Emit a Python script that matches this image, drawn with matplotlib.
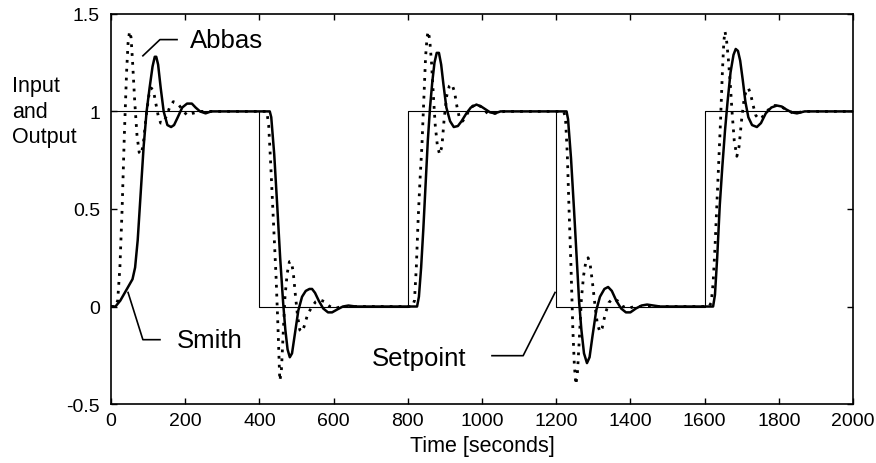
import matplotlib
matplotlib.use('Agg')
import matplotlib.pyplot as plt

plt.rcParams['font.family'] = ['Liberation Sans', 'DejaVu Sans']

# Setpoint square wave (step-post)
setpoint_t = [0, 400, 800, 1200, 1600, 2000]
setpoint_y = [1, 0, 1, 0, 1, 1]

# Smith predictor response (solid line)
smith_t = [0, 12, 25, 40, 52, 58, 65, 72, 80, 88, 96, 104, 112, 118, 122, 127, 134,
           142, 152, 162, 170, 180, 192, 205, 218, 228, 240, 255, 270, 290, 320, 360,
           400, 428,
           432, 440, 448, 456, 464, 470, 476, 482, 488, 495, 505, 515, 525, 535, 542,
           550, 560, 572, 585, 596, 610, 625, 640, 660, 700, 760, 800, 825,
           830, 836, 842, 848, 854, 860, 866, 872, 878, 884, 890, 896, 904, 914, 924,
           935, 945, 958, 970, 985, 998, 1010, 1022, 1035, 1050, 1080, 1120, 1200, 1228,
           1232, 1240, 1248, 1256, 1262, 1268, 1275, 1283, 1290, 1298, 1308, 1318, 1330,
           1340, 1350, 1362, 1375, 1388, 1400, 1415, 1430, 1445, 1480, 1550, 1600, 1623,
           1628, 1634, 1641, 1648, 1655, 1662, 1670, 1678, 1684, 1690, 1696, 1703, 1710,
           1718, 1728, 1741, 1752, 1765, 1780, 1795, 1808, 1820, 1835, 1849, 1870, 1900,
           1950, 2000]
smith_y = [0, 0, 0.03, 0.08, 0.12, 0.14, 0.2, 0.34, 0.58, 0.82, 1.0, 1.12, 1.23, 1.28,
           1.28, 1.24, 1.12, 1.0, 0.93, 0.92, 0.93, 0.97, 1.02, 1.04, 1.04, 1.02, 1.0,
           0.99, 1.0, 1.0, 1.0, 1.0, 1.0, 1.0,
           0.97, 0.78, 0.52, 0.25, 0.02, -0.12, -0.22, -0.26, -0.24, -0.15, -0.02, 0.05,
           0.08, 0.09, 0.09, 0.07, 0.03, -0.01, -0.03, -0.03, -0.015, 0.0, 0.005, 0.0,
           0.0, 0.0, 0.0, 0.0,
           0.05, 0.2, 0.4, 0.62, 0.85, 1.02, 1.15, 1.25, 1.3, 1.3, 1.24, 1.14, 1.02,
           0.95, 0.92, 0.925, 0.95, 0.99, 1.02, 1.035, 1.025, 1.01, 0.995, 0.99, 1.0,
           1.0, 1.0, 1.0, 1.0,
           0.96, 0.76, 0.5, 0.22, 0.02, -0.12, -0.24, -0.29, -0.26, -0.15, -0.02, 0.05,
           0.09, 0.10, 0.08, 0.03, -0.01, -0.03, -0.03, -0.01, 0.005, 0.01, 0.0, 0.0,
           0.0, 0.0,
           0.06, 0.25, 0.52, 0.72, 0.9, 1.05, 1.2, 1.29, 1.32, 1.31, 1.26, 1.16, 1.05,
           0.97, 0.93, 0.92, 0.94, 0.99, 1.02, 1.03, 1.025, 1.01, 0.995, 0.99, 1.0, 1.0,
           1.0, 1.0]

# Abbas controller response (dotted line)
abbas_t = [0, 12, 18, 24, 30, 36, 42, 46, 50, 54, 58, 64, 70, 76, 82, 88, 95, 102, 108,
           114, 120, 127, 134, 140, 148, 158, 168, 180, 192, 205, 220, 240, 270, 320,
           400, 420,
           425, 430, 435, 440, 445, 450, 455, 459, 464, 469, 475, 481, 486, 491, 497,
           503, 509, 515, 521, 530, 542, 552, 563, 575, 590, 605, 620, 650, 700, 812,
           818, 823, 828, 833, 838, 843, 848, 852, 855, 859, 864, 869, 874, 880, 886,
           892, 898, 905, 912, 919, 926, 933, 940, 948, 958, 970, 985, 1000, 1015, 1035,
           1060, 1100, 1200, 1220,
           1225, 1230, 1235, 1240, 1245, 1249, 1253, 1257, 1262, 1268, 1274, 1280, 1286,
           1292, 1298, 1305, 1311, 1318, 1324, 1332, 1342, 1352, 1365, 1380, 1395, 1410,
           1430, 1460, 1520, 1612,
           1618, 1623, 1628, 1633, 1638, 1643, 1648, 1652, 1655, 1659, 1664, 1669, 1674,
           1680, 1687, 1693, 1700, 1707, 1713, 1718, 1724, 1731, 1738, 1746, 1755, 1768,
           1783, 1800, 1820, 1840, 1870, 1920, 2000]
abbas_y = [0, 0, 0.03, 0.2, 0.5, 0.88, 1.2, 1.35, 1.41, 1.38, 1.26, 1.05, 0.88, 0.79,
           0.78, 0.85, 0.98, 1.08, 1.12, 1.11, 1.05, 0.98, 0.94, 0.94, 0.97, 1.02, 1.05,
           1.04, 1.01, 0.98, 0.99, 1.0, 1.0, 1.0, 1.0, 1.0,
           0.93, 0.75, 0.55, 0.35, 0.15, -0.1, -0.38, -0.34, -0.15, 0.05, 0.17, 0.23,
           0.23, 0.18, 0.06, -0.05, -0.12, -0.13, -0.1, -0.04, 0.0, 0.025, 0.035, 0.025,
           0.0, -0.01, 0.0, 0.0, 0.0, 0.0,
           0.03, 0.2, 0.45, 0.65, 0.82, 1.05, 1.28, 1.38, 1.41, 1.37, 1.25, 1.08, 0.93,
           0.82, 0.78, 0.82, 0.96, 1.08, 1.13, 1.14, 1.1, 1.02, 0.96, 0.95, 0.98, 1.02,
           1.04, 1.02, 0.99, 0.99, 1.0, 1.0, 1.0, 1.0,
           0.97, 0.78, 0.48, 0.2, -0.12, -0.3, -0.40, -0.35, -0.18, 0.04, 0.16, 0.23,
           0.25, 0.21, 0.12, 0.0, -0.09, -0.13, -0.11, -0.04, 0.02, 0.04, 0.03, 0.0,
           -0.01, 0.0, 0.0, 0.0, 0.0, 0.0,
           0.02, 0.12, 0.3, 0.52, 0.75, 0.95, 1.2, 1.36, 1.41, 1.37, 1.27, 1.15, 1.0,
           0.85, 0.77, 0.82, 0.96, 1.07, 1.11, 1.12, 1.09, 1.03, 0.98, 0.96, 0.97, 1.0,
           1.03, 1.03, 1.01, 0.99, 1.0, 1.0, 1.0]

x_ticks = list(range(0, 2001, 200))
y_ticks = [-0.5, 0, 0.5, 1, 1.5]
y_tick_labels = ['-0.5', '0', '0.5', '1', '1.5']

fig = plt.figure(figsize=(8.76, 4.64), dpi=100)
ax = fig.add_axes([0.1267, 0.127, 0.847, 0.841])

ax.step(setpoint_t, setpoint_y, where='post', color='black', lw=0.8)
ax.plot(smith_t, smith_y, color='black', lw=1.8)
ax.plot(abbas_t, abbas_y, color='black', lw=2.0, linestyle=(0, (1, 2.2)))

# leader lines and labels
ax.plot([86, 132, 178], [1.285, 1.368, 1.368], color='black', lw=1.2)
ax.text(213, 1.368, 'Abbas', fontsize=18.5, va='center', ha='left')
ax.plot([46, 86, 132], [0.072, -0.17, -0.17], color='black', lw=1.2)
ax.text(178, -0.17, 'Smith', fontsize=18.5, va='center', ha='left')
ax.plot([1197, 1111, 1027], [0.072, -0.252, -0.252], color='black', lw=1.2)
ax.text(957, -0.265, 'Setpoint', fontsize=18.5, va='center', ha='right')

ax.set_xlim(0, 2000)
ax.set_ylim(-0.5, 1.5)
ax.set_xticks(x_ticks)
ax.set_yticks(y_ticks)
ax.set_yticklabels(y_tick_labels)
ax.tick_params(direction='in', length=4, width=1, top=True, right=True,
               labelsize=14, pad=6)
ax.tick_params(axis='y', pad=8)
for s in ax.spines.values():
    s.set_linewidth(1.2)

ax.set_xlabel('Time [seconds]', fontsize=15.5, labelpad=4)
fig.text(12 / 876, 1 - 112 / 464, 'Input\nand\nOutput', fontsize=15.5,
         ha='left', va='center', linespacing=1.27)

fig.savefig('out.png', dpi=100)
